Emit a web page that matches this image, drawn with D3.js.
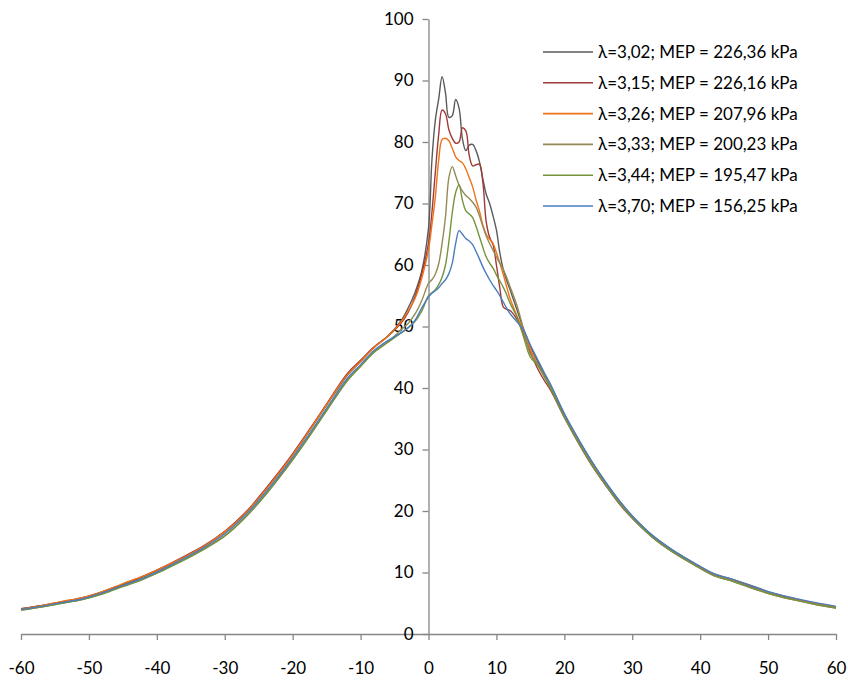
<!DOCTYPE html>
<html>
<head>
<meta charset="utf-8">
<script src="https://cdn.jsdelivr.net/npm/d3@7"></script>
<style>
  html, body { margin: 0; padding: 0; background: #fff; }
  svg { display: block; }
  text { font-family: Lato, "Open Sans", "DejaVu Sans", sans-serif; fill: #000; }
</style>
</head>
<body>
<svg id="chart" width="848" height="681"></svg>
<script>
// Crank angle positions (deg) shared by every curve
const angles = [-60,-57,-54,-51,-48,-45,-42,-39,-36,-33,-30,-27,-24,-21,-18,-15,-12,-10,-8,-6,
  -4,-3,-2,-1,0,0.5,1,1.5,2,2.5,3,3.5,4,4.5,5,5.5,6,6.5,7,7.5,8,8.5,9,9.5,10,10.5,11,11.5,12,
  13,14,15,16,17,18,20,22,24,26,28,30,33,36,39,42,45,48,51,54,57,60];

// Cylinder pressure for each operating point
const p302 = [4.1,4.6,5.2,5.8,6.8,8.0,9.3,10.8,12.5,14.3,16.6,19.6,23.4,27.6,32.3,37.2,42.0,44.3,46.6,48.4,
  51.0,53.0,55.5,59.0,66.0,77.0,83.5,87.0,90.6,88.0,84.0,84.3,86.9,85.5,80.5,78.6,79.5,79.6,78.6,76.8,74.0,71.5,70.0,68.0,65.7,62.0,59.3,57.5,56.0,
  52.8,49.6,46.8,44.5,42.4,40.4,35.8,31.8,28.1,24.8,21.8,19.2,16.0,13.6,11.6,9.8,8.8,7.7,6.5,5.7,5.0,4.4];
const p315 = [4.1,4.6,5.2,5.9,6.9,8.1,9.4,10.9,12.6,14.4,16.7,19.7,23.6,27.8,32.5,37.4,42.3,44.5,46.7,48.4,
  50.6,52.3,54.8,58.5,63.5,68.5,75.0,81.2,85.2,84.6,82.0,80.6,79.8,80.0,82.3,81.8,77.8,76.1,76.3,76.4,73.5,67.0,64.5,63.3,60.0,56.3,53.2,52.8,52.6,
  51.2,48.8,45.8,43.3,41.3,39.6,35.2,31.2,27.5,24.3,21.3,18.8,15.7,13.3,11.4,9.6,8.6,7.4,6.4,5.6,4.9,4.3];
const p326 = [4.0,4.6,5.3,5.9,6.9,8.2,9.4,10.9,12.5,14.3,16.6,19.6,23.4,27.6,32.3,37.3,42.1,44.3,46.6,48.4,
  50.8,52.5,54.5,57.8,62.5,66.5,71.0,77.0,80.4,80.6,80.2,79.0,77.6,77.0,76.6,75.6,74.2,72.7,70.6,68.8,66.5,65.0,64.2,63.5,62.0,60.3,58.5,56.5,54.6,
  51.8,49.2,46.3,44.0,42.0,40.1,35.5,31.5,27.8,24.5,21.5,19.0,15.8,13.4,11.4,9.6,8.7,7.5,6.4,5.6,5.0,4.3];
const p333 = [3.9,4.4,5.0,5.6,6.6,7.8,9.0,10.4,12.1,13.9,16.0,19.0,22.7,26.9,31.5,36.4,41.2,43.6,45.9,47.5,
  49.5,50.5,52.0,54.2,57.0,57.6,58.5,60.2,63.5,67.8,74.2,76.0,74.5,73.0,72.0,71.3,70.8,70.2,69.4,68.0,66.3,64.7,63.5,62.4,61.3,60.3,59.3,58.0,56.5,
  53.5,49.5,45.5,44.0,42.0,40.0,35.4,31.4,27.7,24.4,21.5,18.9,15.7,13.3,11.3,9.5,8.5,7.3,6.3,5.5,4.8,4.2];
const p344 = [3.9,4.4,5.0,5.6,6.5,7.7,8.9,10.4,12.0,13.8,15.9,18.9,22.6,26.8,31.4,36.3,41.1,43.5,45.8,47.4,
  49.0,49.8,50.8,52.5,55.0,55.5,56.0,56.8,58.0,60.0,63.8,68.5,71.8,73.0,70.5,68.8,68.3,67.7,66.3,64.6,62.9,61.3,60.3,59.5,58.4,57.4,56.4,55.2,53.8,
  51.6,48.3,45.0,43.8,41.9,39.9,35.3,31.3,27.6,24.4,21.4,18.9,15.7,13.3,11.3,9.5,8.5,7.3,6.3,5.5,4.8,4.2];
const p370 = [4.0,4.5,5.1,5.7,6.7,7.9,9.1,10.6,12.3,14.1,16.3,19.3,23.0,27.2,31.8,36.7,41.5,43.8,46.1,47.7,
  49.0,49.8,51.0,53.0,54.8,55.4,55.8,56.3,57.0,57.6,58.6,60.3,63.5,65.6,65.0,64.3,63.9,63.3,62.2,61.0,59.7,58.6,57.6,56.7,55.9,55.0,54.0,53.0,52.1,
  50.8,49.4,47.0,44.8,42.6,40.5,35.8,31.8,28.1,24.8,21.8,19.2,16.0,13.6,11.6,9.8,8.8,7.6,6.6,5.8,5.1,4.5];

const seriesLabels = [
  "λ=3,02; MEP = 226,36 kPa",
  "λ=3,15; MEP = 226,16 kPa",
  "λ=3,26; MEP = 207,96 kPa",
  "λ=3,33; MEP = 200,23 kPa",
  "λ=3,44; MEP = 195,47 kPa",
  "λ=3,70; MEP = 156,25 kPa"
];
const seriesValues = [p302, p315, p326, p333, p344, p370];
const seriesColors = ["#5a5a5a", "#9e3a38", "#ef7318", "#948a54", "#77933c", "#4a7ebb"];

const xTicks = [-60,-50,-40,-30,-20,-10,0,10,20,30,40,50,60];
const yTicks = [0,10,20,30,40,50,60,70,80,90,100];

const svg = d3.select("#chart");
const x = d3.scaleLinear().domain([-60, 60]).range([21, 836]);
const y = d3.scaleLinear().domain([0, 100]).range([634, 19]);
const axisColor = "#868686";
const fontSize = 17;

// x axis along y = 0
const gx = svg.append("g")
  .attr("transform", `translate(0,${y(0)})`)
  .call(d3.axisBottom(x).tickValues(xTicks).tickSize(6).tickSizeOuter(0).tickPadding(22)
    .tickFormat(d3.format("d")));
gx.select(".domain").attr("stroke", axisColor).attr("stroke-width", 1.3);
gx.selectAll(".tick line").attr("stroke", axisColor).attr("stroke-width", 1.3);
gx.selectAll(".tick text").attr("font-size", fontSize).attr("fill", "#000")
  .text(d => d < 0 ? "-" + Math.abs(d) : d);

// y axis along x = 0
const gy = svg.append("g")
  .attr("transform", `translate(${x(0)},0)`)
  .call(d3.axisLeft(y).tickValues(yTicks).tickSize(6).tickSizeOuter(0).tickPadding(9));
gy.select(".domain").attr("stroke", axisColor).attr("stroke-width", 1.3);
gy.selectAll(".tick line").attr("stroke", axisColor).attr("stroke-width", 1.3);
gy.selectAll(".tick text").attr("font-size", fontSize).attr("fill", "#000");
svg.selectAll("g").attr("font-family", null);

// pressure curves, first series at the bottom
const line = d3.line()
  .x((d, i) => x(angles[i]))
  .y(d => y(d))
  .curve(d3.curveCatmullRom.alpha(0.5));

svg.append("g").selectAll("path")
  .data(seriesValues)
  .join("path")
  .attr("d", d => line(d))
  .attr("fill", "none")
  .attr("stroke", (d, i) => seriesColors[i])
  .attr("stroke-width", 1.4)
  .attr("stroke-linejoin", "round");

// legend
const legend = svg.append("g");
const rowY = d3.scaleLinear().domain([0, 5]).range([52, 206]);
seriesLabels.forEach((label, i) => {
  const yy = rowY(i);
  legend.append("line")
    .attr("x1", 543).attr("x2", 593)
    .attr("y1", yy).attr("y2", yy)
    .attr("stroke", seriesColors[i]).attr("stroke-width", 1.6);
  legend.append("text")
    .attr("x", 598).attr("y", yy)
    .attr("dy", "0.35em")
    .attr("font-size", fontSize)
    .text(label);
});
</script>
</body>
</html>
